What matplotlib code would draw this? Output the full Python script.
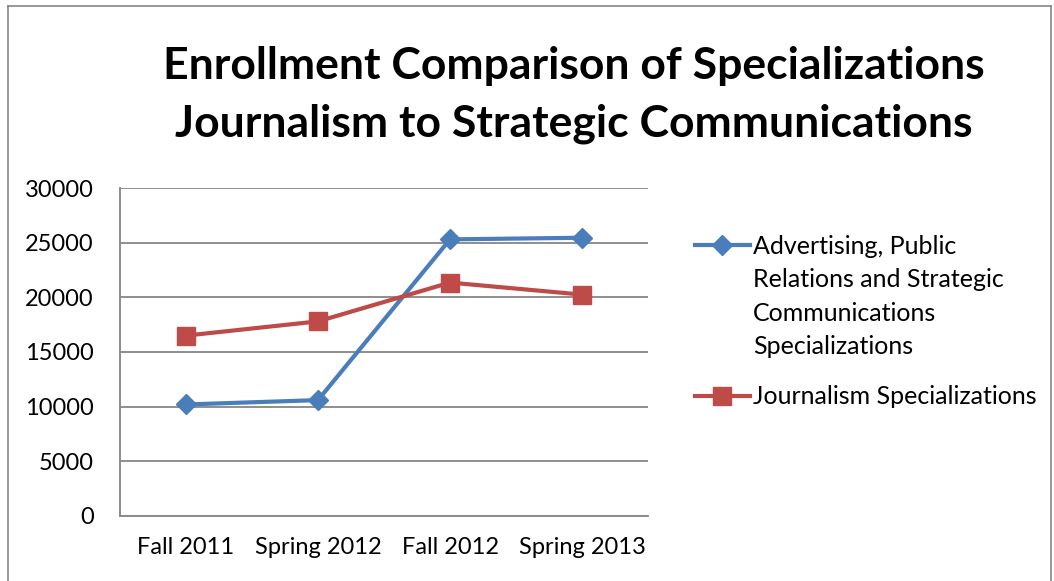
import numpy as np
import matplotlib.pyplot as plt
from matplotlib.lines import Line2D

# datos
periodos = ["Fall 2011", "Spring 2012", "Fall 2012", "Spring 2013"]
advertising = [10200, 10600, 25300, 25450]
journalism = [16500, 17800, 21350, 20250]

serie_adv = "Advertising, Public\nRelations and Strategic\nCommunications\nSpecializations"
serie_jou = "Journalism Specializations"

azul = "#4a7ebb"
rojo = "#be4b48"
gris = "#868686"

plt.rcParams['font.family'] = ['Lato', 'DejaVu Sans']

W, H = 1054, 581
fig = plt.figure(figsize=(W / 100, H / 100), dpi=100)
ax = fig.add_axes([120 / W, 65 / H, 528 / W, 328 / H])

x = np.arange(len(periodos))
ax.plot(x, advertising, color=azul, linewidth=3, marker='D', markersize=10.5)
ax.plot(x, journalism, color=rojo, linewidth=3, marker='s', markersize=13)

ax.set_xlim(-0.5, 3.5)
ax.set_ylim(0, 30000)
ax.set_yticks(np.arange(0, 30001, 5000))
ax.set_xticks(x)
ax.set_xticklabels(periodos)
ax.tick_params(axis='both', length=0, labelsize=17)
ax.tick_params(axis='x', pad=15)
ax.tick_params(axis='y', pad=19)
ax.grid(True, axis='y', color=gris, linewidth=1.3)
ax.set_axisbelow(True)
for lado in ['top', 'right']:
    ax.spines[lado].set_visible(False)
for lado in ['left', 'bottom']:
    ax.spines[lado].set_color(gris)
    ax.spines[lado].set_linewidth(1.3)

fig.text(574 / W, 1 - 95 / H,
         "Enrollment Comparison of Specializations\nJournalism to Strategic Communications",
         ha='center', va='center', fontsize=32, fontweight='bold', linespacing=1.55)

# leyenda a mano: el simbolo va alineado con la primera linea del texto
def clave(y_px, color, marcador, tam):
    fig.add_artist(Line2D([695 / W, 750 / W], [1 - y_px / H, 1 - y_px / H],
                          color=color, linewidth=3))
    fig.add_artist(Line2D([722 / W], [1 - y_px / H], color=color,
                          marker=marcador, markersize=tam, linestyle='none'))

clave(245, azul, 'D', 10.5)
clave(396, rojo, 's', 13)
fig.text(753 / W, 1 - 235 / H, serie_adv, ha='left', va='top', fontsize=18,
         linespacing=1.55)
fig.text(753 / W, 1 - 396 / H, serie_jou, ha='left', va='center', fontsize=18)

# borde del grafico
fig.add_artist(Line2D([8 / W, 8 / W], [0, 1 - 6 / H], color=gris, linewidth=1.2))
fig.add_artist(Line2D([8 / W, 1051 / W], [1 - 6 / H, 1 - 6 / H], color=gris, linewidth=1.2))
fig.add_artist(Line2D([1051 / W, 1051 / W], [0, 1 - 6 / H], color=gris, linewidth=1.2))

fig.savefig('out.png', dpi=100)
